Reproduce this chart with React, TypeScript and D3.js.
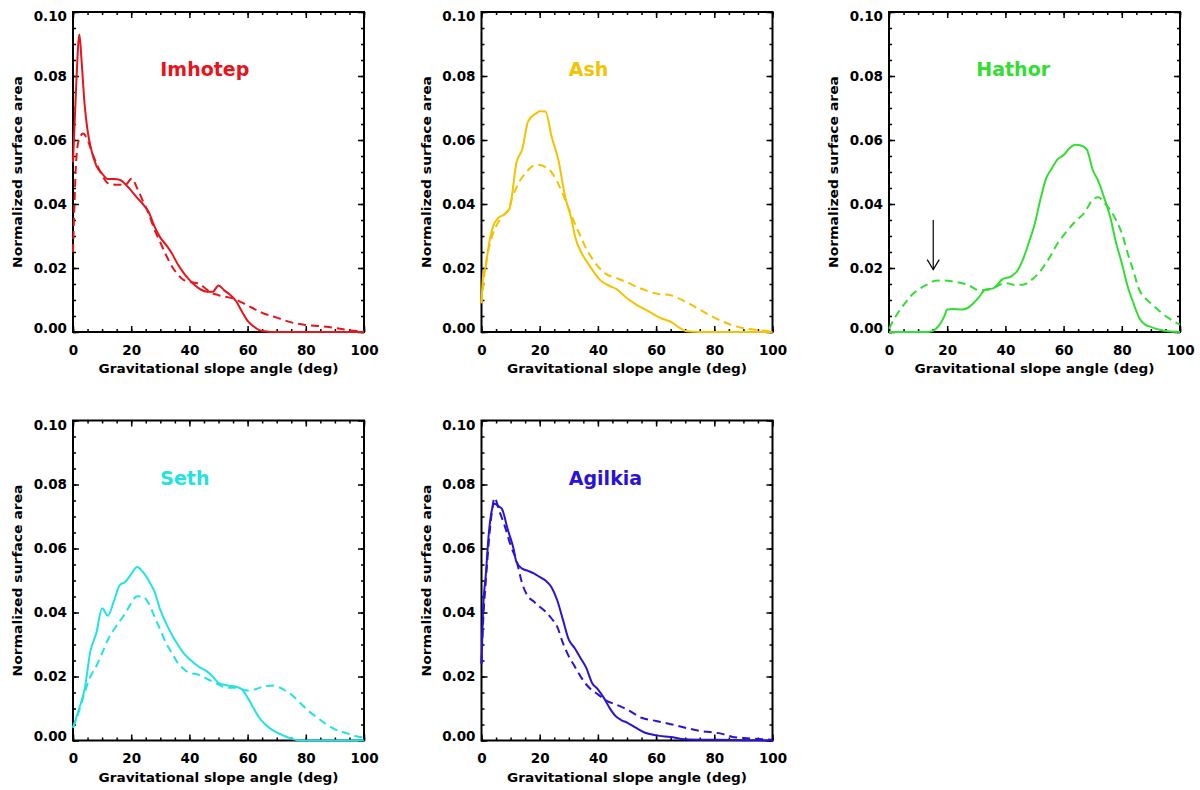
import React, { useRef, useEffect } from 'react';
import * as d3 from 'd3';

type Pt = [number, number];

// axis ticks
const angleTicks = [0, 20, 40, 60, 80, 100];
const angleMinorTicks = [0, 5, 10, 15, 20, 25, 30, 35, 40, 45, 50, 55, 60, 65, 70, 75, 80, 85, 90, 95, 100];
const areaTicks = [0, 0.02, 0.04, 0.06, 0.08, 0.1];
const areaMinorTicks = [0, 0.005, 0.01, 0.015, 0.02, 0.025, 0.03, 0.035, 0.04, 0.045, 0.05, 0.055, 0.06, 0.065, 0.07, 0.075, 0.08, 0.085, 0.09, 0.095, 0.1];

const regionNames = ['Imhotep', 'Ash', 'Hathor', 'Seth', 'Agilkia'];
const regionColors = ['#e8141c', '#f5c200', '#33dd33', '#22e2e2', '#2a12d6'];

// [slope angle (deg), normalized surface area]
const imhotepSolid: Pt[] = [
    [0, 0.053], [1, 0.075], [2.2, 0.093], [3, 0.084], [4, 0.071], [5, 0.063], [6, 0.058], [8, 0.052],
    [10, 0.0495], [12, 0.0478], [14, 0.0478], [16, 0.0476], [18, 0.0462], [20, 0.0442], [22, 0.042],
    [24, 0.040], [26, 0.0375], [28, 0.033], [30, 0.0295], [32, 0.0272], [34, 0.0245], [36, 0.0212],
    [38, 0.0185], [40, 0.0163], [42, 0.0145], [44, 0.0132], [46, 0.0126], [48, 0.0126], [50, 0.0145],
    [52, 0.013], [54, 0.0116], [56, 0.0097], [58, 0.0065], [60, 0.0035], [62, 0.0018], [64, 0.0006],
    [66, 0.0002], [68, 0], [70, 0], [80, 0], [90, 0], [100, 0]
];
const imhotepDashed: Pt[] = [
    [0, 0.025], [0.5, 0.04], [1, 0.052], [2, 0.060], [3.5, 0.062], [5, 0.060], [7, 0.055], [10, 0.049],
    [12, 0.0465], [15, 0.046], [18, 0.046], [20.2, 0.048], [22, 0.045], [24, 0.041], [26, 0.037],
    [28, 0.032], [30, 0.028], [32, 0.024], [34, 0.0205], [36, 0.018], [38, 0.0163], [40, 0.0157],
    [43, 0.0152], [45, 0.014], [47, 0.0125], [50, 0.0115], [55, 0.0105], [60, 0.0083], [65, 0.006],
    [70, 0.0045], [75, 0.003], [80, 0.0022], [85, 0.0018], [90, 0.0013], [95, 0.0005], [100, 0.0002]
];

const ashSolid: Pt[] = [
    [0, 0.009], [0.6, 0.018], [1.5, 0.0205], [2.3, 0.026], [4, 0.033], [5.7, 0.0356], [8, 0.0368],
    [9.7, 0.0387], [12, 0.0528], [14.1, 0.0574], [16, 0.0658], [18.9, 0.0684], [20, 0.069], [22, 0.0689],
    [24.1, 0.061], [26.4, 0.0538], [28.7, 0.0424], [31, 0.035], [32.1, 0.030], [34.4, 0.0247],
    [37.3, 0.0205], [40.7, 0.0163], [44.2, 0.0143], [46.4, 0.0134], [49.9, 0.0106], [53.3, 0.0085],
    [57.3, 0.0065], [61.4, 0.0044], [65.4, 0.003], [68.2, 0.0012], [70.5, 0.0002], [75, 0], [80, 0],
    [90, 0], [100, 0]
];
const ashDashed: Pt[] = [
    [0, 0.009], [1, 0.018], [3, 0.028], [5, 0.033], [7, 0.036], [9, 0.038], [11, 0.043], [13, 0.047],
    [15, 0.0495], [18, 0.052], [20, 0.0522], [22, 0.0515], [24, 0.05], [26, 0.047], [28, 0.043],
    [30, 0.0385], [32, 0.034], [34, 0.030], [36, 0.026], [38, 0.023], [40, 0.0205], [43, 0.018],
    [46, 0.017], [50, 0.0155], [55, 0.0135], [60, 0.012], [65, 0.0115], [70, 0.0095], [75, 0.007],
    [80, 0.0045], [85, 0.0025], [90, 0.0012], [95, 0.0006], [100, 0.0002]
];

const hathorSolid: Pt[] = [
    [0, 0], [10, 0], [13, 0], [15, 0.0003], [17, 0.0018], [19, 0.0049], [20, 0.007], [22, 0.0072],
    [25, 0.007], [27, 0.0075], [29, 0.009], [31, 0.011], [33, 0.0132], [36, 0.0137], [39, 0.0165],
    [42, 0.0174], [44, 0.019], [46, 0.0226], [48, 0.0278], [50, 0.0335], [52, 0.0413], [54, 0.048],
    [56, 0.0512], [58, 0.054], [60, 0.0553], [62, 0.0574], [64, 0.0585], [66, 0.0583], [68, 0.057],
    [70, 0.0507], [72, 0.047], [74, 0.0418], [76, 0.036], [78, 0.028], [80, 0.0215], [82, 0.0143],
    [84, 0.009], [86, 0.0044], [88, 0.0023], [90, 0.0016], [93, 0.0007], [96, 0.0002], [100, 0]
];
const hathorDashed: Pt[] = [
    [0, 0.001], [2, 0.0044], [4, 0.0072], [6, 0.0096], [8, 0.0117], [10, 0.0132], [13, 0.0148],
    [16, 0.016], [19, 0.0161], [22, 0.0158], [25, 0.0153], [28, 0.0143], [31, 0.013], [34, 0.0132],
    [37, 0.0143], [40, 0.0153], [43, 0.0148], [46, 0.0148], [49, 0.0163], [52, 0.019], [55, 0.023],
    [58, 0.0278], [61, 0.0314], [64, 0.0345], [67, 0.0371], [70, 0.0413], [72, 0.0421], [74, 0.0403],
    [76, 0.0382], [78, 0.035], [80, 0.0309], [82, 0.0247], [84, 0.019], [86, 0.0132], [88, 0.0106],
    [90, 0.009], [93, 0.0065], [96, 0.0044], [100, 0.0023]
];

const sethSolid: Pt[] = [
    [0, 0.004], [2, 0.0097], [4, 0.016], [6, 0.028], [8, 0.0335], [10, 0.0413], [12, 0.039],
    [14, 0.0434], [16, 0.0485], [18, 0.0496], [20, 0.052], [22, 0.0542], [24, 0.0527], [26, 0.050],
    [28, 0.0465], [30, 0.0408], [32, 0.0366], [34, 0.033], [36, 0.030], [38, 0.0273], [40, 0.0255],
    [43, 0.0232], [46, 0.0216], [48, 0.020], [50, 0.018], [53, 0.0172], [56, 0.0168], [58, 0.016],
    [60, 0.0134], [62, 0.0102], [64, 0.0071], [66, 0.0051], [69, 0.003], [72, 0.0017], [75, 0.0006],
    [78, 0], [85, 0], [90, 0], [100, 0]
];
const sethDashed: Pt[] = [
    [0, 0.004], [2, 0.009], [4, 0.015], [6, 0.020], [8, 0.0232], [10, 0.0273], [12, 0.0315],
    [14, 0.0346], [16, 0.0372], [18, 0.0398], [20, 0.0429], [22, 0.0451], [24, 0.0449], [26, 0.0429],
    [28, 0.0387], [30, 0.0346], [32, 0.0304], [34, 0.0273], [36, 0.0242], [38, 0.0224], [40, 0.0211],
    [43, 0.0206], [46, 0.0193], [50, 0.0175], [53, 0.0165], [56, 0.0165], [60, 0.0156], [63, 0.0161],
    [66, 0.017], [69, 0.0172], [72, 0.0161], [75, 0.0144], [78, 0.0118], [81, 0.0092], [84, 0.0071],
    [87, 0.0051], [90, 0.0035], [94, 0.0023], [97, 0.0014], [100, 0.0009]
];

const agilkiaSolid: Pt[] = [
    [0, 0.024], [0.5, 0.040], [1.5, 0.052], [2.5, 0.0646], [3.5, 0.0717], [4.5, 0.074], [6, 0.0731],
    [7, 0.0724], [9, 0.066], [11, 0.060], [12, 0.0558], [14, 0.0537], [16, 0.053], [18, 0.0522],
    [20, 0.0511], [22, 0.050], [24, 0.048], [26, 0.0439], [28, 0.0377], [30, 0.0315], [32, 0.0289],
    [34, 0.0258], [36, 0.0227], [38, 0.018], [40, 0.016], [42, 0.0134], [44, 0.0102], [46, 0.0077],
    [48, 0.0064], [50, 0.0056], [53, 0.004], [56, 0.0025], [60, 0.0016], [65, 0.0011], [70, 0.0004],
    [80, 0.0002], [90, 0.0001], [100, 0]
];
const agilkiaDashed: Pt[] = [
    [0, 0.024], [0.5, 0.036], [1.5, 0.050], [2.5, 0.062], [3.5, 0.071], [4.5, 0.0758], [6, 0.072],
    [8, 0.067], [10, 0.061], [12, 0.0563], [14, 0.049], [16, 0.045], [18, 0.0434], [20, 0.0418],
    [22, 0.0403], [24, 0.0382], [26, 0.0356], [28, 0.0304], [30, 0.0263], [32, 0.0232], [34, 0.0201],
    [36, 0.0175], [38, 0.0157], [40, 0.0144], [43, 0.0124], [46, 0.0113], [50, 0.0097], [55, 0.0071],
    [60, 0.0061], [65, 0.0051], [70, 0.004], [75, 0.003], [80, 0.0025], [83, 0.002], [86, 0.0012],
    [90, 0.0008], [95, 0.0005], [100, 0.0002]
];

const solidSeries = [imhotepSolid, ashSolid, hathorSolid, sethSolid, agilkiaSolid];
const dashedSeries = [imhotepDashed, ashDashed, hathorDashed, sethDashed, agilkiaDashed];

// arrow annotation in the Hathor panel: [angle, from area, to area]
const hathorArrow = [15.2, 0.035, 0.0195];

const title = { angle: 30, area: 0.08 };

export default function App() {
    const svgRef = useRef<SVGSVGElement | null>(null);

    useEffect(() => {
        if (!svgRef.current) return;
        const svg = d3.select(svgRef.current);
        svg.selectAll('*').remove();

        const panelLeft = [73, 481.5, 889, 73, 481.5];
        const panelTop = [12, 12, 12, 420.5, 420.5];
        const width = 291;
        const height = 320;
        const font = '"DejaVu Sans", sans-serif';

        regionNames.forEach((name, i) => {
            const color = regionColors[i];
            const g = svg.append('g')
                .attr('transform', `translate(${panelLeft[i]},${panelTop[i]})`);

            const x = d3.scaleLinear().domain([0, 100]).range([0, width]);
            const y = d3.scaleLinear().domain([0, 0.1]).range([height, 0]);

            const styleAxis = (sel: d3.Selection<SVGGElement, unknown, null, undefined>) => {
                sel.select('.domain').remove();
                sel.selectAll('line').attr('stroke', '#000').attr('stroke-width', 1.5);
                sel.selectAll('text')
                    .attr('fill', '#000')
                    .attr('font-family', font)
                    .attr('font-weight', 'bold')
                    .attr('font-size', 13.5);
            };
            const none = () => '';

            // bottom
            g.append('g').attr('transform', `translate(0,${height})`)
                .call(d3.axisBottom(x).tickValues(angleMinorTicks).tickSize(-3).tickFormat(none))
                .call(styleAxis);
            g.append('g').attr('transform', `translate(0,${height})`)
                .call(d3.axisBottom(x).tickValues(angleTicks).tickSize(-6).tickPadding(13).tickFormat(d3.format('d')))
                .call(styleAxis);
            // top
            g.append('g')
                .call(d3.axisTop(x).tickValues(angleMinorTicks).tickSize(-3).tickFormat(none))
                .call(styleAxis);
            g.append('g')
                .call(d3.axisTop(x).tickValues(angleTicks).tickSize(-6).tickFormat(none))
                .call(styleAxis);
            // left
            g.append('g')
                .call(d3.axisLeft(y).tickValues(areaMinorTicks).tickSize(-3).tickFormat(none))
                .call(styleAxis);
            const yAxis = g.append('g')
                .call(d3.axisLeft(y).tickValues(areaTicks).tickSize(-6).tickPadding(6).tickFormat(d3.format('.2f')))
                .call(styleAxis);
            yAxis.selectAll<SVGTextElement, number>('text')
                .attr('y', d => (d === 0 ? -4 : d === 0.1 ? 4.5 : 0));
            // right
            g.append('g').attr('transform', `translate(${width},0)`)
                .call(d3.axisRight(y).tickValues(areaMinorTicks).tickSize(-3).tickFormat(none))
                .call(styleAxis);
            g.append('g').attr('transform', `translate(${width},0)`)
                .call(d3.axisRight(y).tickValues(areaTicks).tickSize(-6).tickFormat(none))
                .call(styleAxis);

            // frame
            g.append('rect')
                .attr('width', width)
                .attr('height', height)
                .attr('fill', 'none')
                .attr('stroke', '#000')
                .attr('stroke-width', 2);

            // axis titles
            g.append('text')
                .attr('x', width / 2)
                .attr('y', height + 41)
                .attr('text-anchor', 'middle')
                .attr('font-family', font)
                .attr('font-weight', 'bold')
                .attr('font-size', 12.5)
                .attr('textLength', 240)
                .attr('lengthAdjust', 'spacingAndGlyphs')
                .text('Gravitational slope angle (deg)');
            g.append('text')
                .attr('transform', 'rotate(-90)')
                .attr('x', -height / 2)
                .attr('y', -51)
                .attr('text-anchor', 'middle')
                .attr('font-family', font)
                .attr('font-weight', 'bold')
                .attr('font-size', 12.5)
                .attr('textLength', 192)
                .attr('lengthAdjust', 'spacingAndGlyphs')
                .text('Normalized surface area');

            // curves
            const line = d3.line<Pt>()
                .x(d => x(d[0]))
                .y(d => y(d[1]))
                .curve(d3.curveMonotoneX);

            g.append('path')
                .datum(dashedSeries[i])
                .attr('fill', 'none')
                .attr('stroke', color)
                .attr('stroke-width', 2)
                .attr('stroke-dasharray', '8,5')
                .attr('d', line);
            g.append('path')
                .datum(solidSeries[i])
                .attr('fill', 'none')
                .attr('stroke', color)
                .attr('stroke-width', 2)
                .attr('d', line);

            // region name
            g.append('text')
                .attr('x', x(title.angle))
                .attr('y', y(title.area))
                .attr('fill', color)
                .attr('font-family', font)
                .attr('font-weight', 'bold')
                .attr('font-size', 19)
                .text(name);

            if (name === 'Hathor') {
                const [ax, a0, a1] = hathorArrow;
                const tipX = x(ax);
                const tipY = y(a1);
                g.append('line')
                    .attr('x1', tipX).attr('x2', tipX)
                    .attr('y1', y(a0)).attr('y2', tipY)
                    .attr('stroke', '#000')
                    .attr('stroke-width', 1.2);
                g.append('path')
                    .attr('d', `M${tipX - 6},${tipY - 10}L${tipX},${tipY}L${tipX + 6},${tipY - 10}`)
                    .attr('fill', 'none')
                    .attr('stroke', '#000')
                    .attr('stroke-width', 1.2);
            }
        });
    }, []);

    return (
        <div style={{ position: 'absolute', left: 0, top: 0, width: 1200, height: 790, background: '#fff' }}>
            <svg ref={svgRef} width={1200} height={790}></svg>
        </div>
    );
}
